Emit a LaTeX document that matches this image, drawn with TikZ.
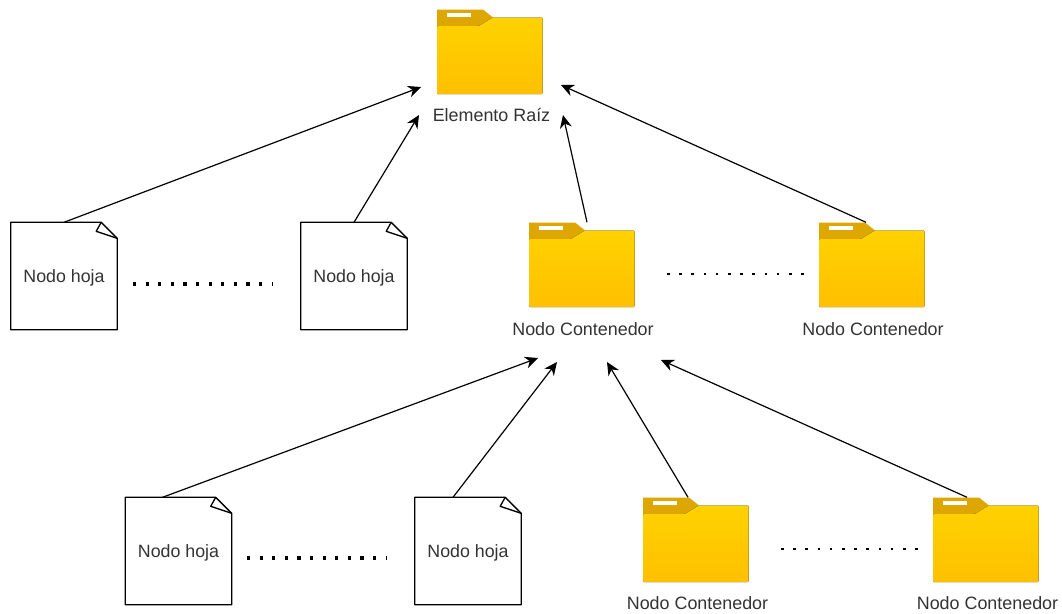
\documentclass[tikz,border=0pt]{standalone}
\usepackage{fontspec}
\setmainfont{Liberation Sans}
\usetikzlibrary{arrows.meta}
\definecolor{foldertab}{HTML}{DDA600}
\definecolor{foldertop}{HTML}{FFD200}
\definecolor{folderbot}{HTML}{FFC000}
\definecolor{labelgray}{HTML}{333333}
\tikzstyle{folder}=[inner sep=0pt, minimum width=106pt, minimum height=85pt, path picture={
    \fill[foldertab] (-53,-42.5) -- (-7,-42.5) -- (3,-34.5) -- (-11,-26) -- (-53,-26) -- cycle;
    \fill[white] (-43,-39) rectangle (-19,-35);
    \fill[top color=foldertop, bottom color=folderbot, rounded corners=1pt] (-53,-26) -- (-11,-26) -- (3,-34.5) -- (52.5,-34.5) -- (52.5,42) -- (-53,42) -- cycle;
}]
\tikzstyle{hoja}=[inner sep=0pt, minimum width=106pt, minimum height=107pt, text depth=0pt, text=labelgray, font=\fontsize{17.8}{20}\selectfont]
\tikzstyle{etiqueta}=[inner sep=0pt, text=labelgray, font=\fontsize{17.9}{20}\selectfont]
\tikzstyle{flecha}=[-{Stealth[length=13pt, width=12pt]}, line width=1.2pt]
\tikzstyle{puntos}=[line width=3.2pt, dash pattern=on 3.2pt off 9.4pt]

\begin{document}
\begin{tikzpicture}[x=1pt, y=-1pt]
        \useasboundingbox (0, 0) rectangle (1062, 613);
        % folders
        \node[folder] (root) at (490, 52) {};
        \node[folder] (cont1) at (582, 265) {};
        \node[folder] (cont2) at (872, 265) {};
        \node[folder] (cont3) at (696, 540) {};
        \node[folder] (cont4) at (986, 540) {};
        \node[etiqueta] (lroot) at (491.5, 115) {Elemento Raíz};
        \node[etiqueta] (lcont1) at (583, 329) {Nodo Contenedor};
        \node[etiqueta] (lcont2) at (873, 329) {Nodo Contenedor};
        \node[etiqueta] (lcont3) at (697.5, 603) {Nodo Contenedor};
        \node[etiqueta] (lcont4) at (987.5, 603) {Nodo Contenedor};
        % leaf pages
        \node[hoja] (hoja1) at (64, 276) {Nodo hoja};
        \node[hoja] (hoja2) at (354, 276) {Nodo hoja};
        \node[hoja] (hoja3) at (178.5, 551) {Nodo hoja};
        \node[hoja] (hoja4) at (468, 551) {Nodo hoja};
        \foreach \h in {hoja1, hoja2, hoja3, hoja4} {
            \draw[line width=1.3pt, line join=round] (\h.north west) -- ([xshift=-16pt]\h.north east) -- ([yshift=-16pt]\h.north east) -- (\h.south east) -- (\h.south west) -- cycle;
            \draw[line width=1.3pt, line join=round] ([xshift=-16pt]\h.north east) -- ([xshift=-21pt, yshift=-9pt]\h.north east) -- ([yshift=-16pt]\h.north east);
        }
        % arrow ends
        \coordinate (a1) at (421, 87);
        \coordinate (a2) at (419, 115);
        \coordinate (a3) at (563, 115);
        \coordinate (a4) at (561, 85);
        \coordinate (b1) at (538, 358);
        \coordinate (b2) at (557, 362);
        \coordinate (b3) at (607, 362);
        \coordinate (b4) at (661, 360);
        \draw[flecha] (hoja1.north) -- (a1);
        \draw[flecha] (hoja2.north) -- (a2);
        \draw[flecha] ([xshift=5pt]cont1.north) -- (a3);
        \draw[flecha] ([xshift=-6pt]cont2.north) -- (a4);
        \draw[flecha] ([xshift=-16pt]hoja3.north) -- (b1);
        \draw[flecha] ([xshift=-15pt]hoja4.north) -- (b2);
        \draw[flecha] ([xshift=-8pt]cont3.north) -- (b3);
        \draw[flecha] ([xshift=-19pt]cont4.north) -- (b4);
        % dots
        \coordinate (p1) at (133, 284);
        \coordinate (p2) at (273, 284);
        \coordinate (p3) at (247, 558);
        \coordinate (p4) at (387, 558);
        \coordinate (q1) at (667, 274);
        \coordinate (q2) at (806, 274);
        \coordinate (q3) at (781, 549);
        \coordinate (q4) at (920, 549);
        \draw[puntos] (p1) -- (p2);
        \draw[puntos] (p3) -- (p4);
        \draw[puntos, line width=2.6pt, dash pattern=on 2.6pt off 9.6pt] (q1) -- (q2);
        \draw[puntos, line width=2.6pt, dash pattern=on 2.6pt off 9.6pt] (q3) -- (q4);
    \end{tikzpicture}
\end{document}
